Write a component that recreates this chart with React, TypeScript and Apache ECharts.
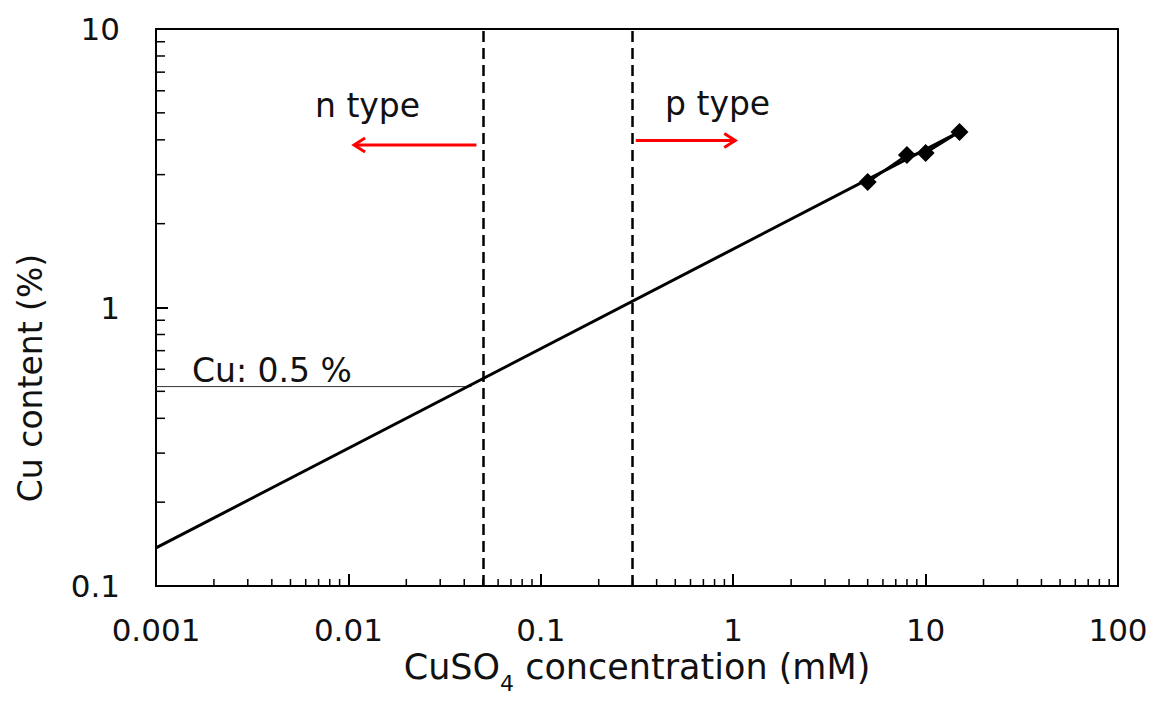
import React, { useEffect, useRef } from "react";
import * as echarts from "echarts";

// ---- data ----
const concentration = [5, 8, 10, 15];
const cuContent = [2.82, 3.53, 3.59, 4.27];
const fitX = [0.001, 15];
const fitY = [0.137, 4.27];
const typeBoundaries = [0.05, 0.3];
const cuLevelX = [0.001, 0.0436];
const cuLevel = 0.52;
const nArrow = [0.0463, 3.83, 0.0107, 3.83];
const pArrow = [0.3116, 3.98, 1.025, 3.98];
const xTickLabels = ["0.001", "0.01", "0.1", "1", "10", "100"];
const yTickLabels = ["0.1", "1", "10"];
const xDecades = [0.001, 0.01, 0.1, 1, 10];
const yDecades = [0.1, 1];
const minorSteps = [2, 3, 4, 5, 6, 7, 8, 9];

const FONT = "DejaVu Sans";
const INK = "#111";

export default function App() {
  const ref = useRef<HTMLDivElement>(null);
  useEffect(() => {
    if (!ref.current) return;
    const chart = echarts.init(ref.current, null, { renderer: "svg" });

    const xMinor: number[][] = [];
    xDecades.forEach((d) => minorSteps.forEach((m) => xMinor.push([d * m, 0.1])));
    const yMinor: number[][] = [];
    yDecades.forEach((d) => minorSteps.forEach((m) => yMinor.push([0.001, d * m])));

    const arrowItem = (params: any, api: any) => {
      const p1 = api.coord([api.value(0), api.value(1)]);
      const p2 = api.coord([api.value(2), api.value(3)]);
      const dir = p2[0] > p1[0] ? 1 : -1;
      const style = { stroke: "#ff0000", lineWidth: 3, fill: "none" };
      return {
        type: "group",
        children: [
          { type: "line", shape: { x1: p1[0], y1: p1[1], x2: p2[0], y2: p2[1] }, style },
          {
            type: "polyline",
            shape: {
              points: [
                [p2[0] - dir * 11, p2[1] - 7],
                [p2[0], p2[1]],
                [p2[0] - dir * 11, p2[1] + 7],
              ],
            },
            style,
          },
        ],
      };
    };

    const textStyle = (text: string, align = "left") => ({
      text,
      font: `33px "${FONT}"`,
      fill: INK,
      verticalAlign: "middle",
      align,
    });

    chart.setOption({
      animation: false,
      grid: {
        left: 156,
        top: 29,
        right: 48,
        bottom: 123,
        show: true,
        borderColor: "#000",
        borderWidth: 2,
        outerBoundsMode: "none",
        containLabel: false,
      },
      xAxis: {
        type: "log",
        logBase: 10,
        min: 0.001,
        max: 100,
        name: "{a|CuSO}{s|4}{a| concentration (mM)}",
        nameLocation: "middle",
        nameGap: 52,
        nameTextStyle: {
          rich: {
            a: { fontSize: 35, fontFamily: FONT, color: INK, lineHeight: 40, verticalAlign: "bottom" },
            s: { fontSize: 22, fontFamily: FONT, color: INK, lineHeight: 40, verticalAlign: "bottom", padding: [0, 0, -10, 0] },
          },
        },
        axisLine: { lineStyle: { color: "#000", width: 2 } },
        axisTick: { inside: true, length: 12, lineStyle: { color: "#000", width: 2 } },
        splitLine: { show: false },
        axisLabel: {
          fontSize: 31,
          fontFamily: FONT,
          color: INK,
          margin: 28,
          formatter: (v: number) => xTickLabels[Math.round(Math.log10(v)) + 3],
        },
      },
      yAxis: {
        type: "log",
        logBase: 10,
        min: 0.1,
        max: 10,
        axisLine: { lineStyle: { color: "#000", width: 2 } },
        axisTick: { inside: true, length: 12, lineStyle: { color: "#000", width: 2 } },
        splitLine: { show: false },
        axisLabel: {
          fontSize: 31,
          fontFamily: FONT,
          color: INK,
          margin: 36,
          formatter: (v: number) => yTickLabels[Math.round(Math.log10(v)) + 1],
        },
      },
      graphic: [
        { type: "text", x: 315, y: 105, style: textStyle("n type") },
        { type: "text", x: 665, y: 103, style: textStyle("p type") },
        { type: "text", x: 192, y: 370, style: textStyle("Cu: 0.5 %") },
        {
          type: "text",
          x: 30,
          y: 378,
          rotation: Math.PI / 2,
          style: textStyle("Cu content (%)", "center"),
        },
      ],
      series: [
        {
          type: "custom",
          silent: true,
          data: xMinor,
          renderItem: (params: any, api: any) => {
            const p = api.coord([api.value(0), api.value(1)]);
            return { type: "line", shape: { x1: p[0], y1: p[1], x2: p[0], y2: p[1] - 7 }, style: { stroke: "#000", lineWidth: 1.5 } };
          },
        },
        {
          type: "custom",
          silent: true,
          data: yMinor,
          renderItem: (params: any, api: any) => {
            const p = api.coord([api.value(0), api.value(1)]);
            return { type: "line", shape: { x1: p[0], y1: p[1], x2: p[0] + 9, y2: p[1] }, style: { stroke: "#000", lineWidth: 1.5 } };
          },
        },
        {
          type: "line",
          data: cuLevelX.map((x) => [x, cuLevel]),
          symbol: "none",
          lineStyle: { color: "#333", width: 1 },
          z: 3,
        },
        {
          type: "line",
          data: fitX.map((x, i) => [x, fitY[i]]),
          symbol: "none",
          lineStyle: { color: "#000", width: 3 },
          z: 4,
          markLine: {
            silent: true,
            symbol: ["none", "none"],
            label: { show: false },
            lineStyle: { color: "#000", width: 2.5, type: [11, 6] },
            data: typeBoundaries.map((v) => ({ xAxis: v })),
          },
        },
        {
          type: "line",
          data: concentration.map((x, i) => [x, cuContent[i]]),
          symbol: "diamond",
          symbolSize: 18,
          itemStyle: { color: "#000" },
          lineStyle: { color: "#000", width: 2.5 },
          z: 5,
        },
        {
          type: "custom",
          silent: true,
          data: [nArrow, pArrow],
          renderItem: arrowItem,
          z: 6,
        },
      ],
    });
    return () => chart.dispose();
  }, []);
  return (
    <div
      ref={ref}
      style={{ position: "fixed", left: 0, top: 0, width: 1166, height: 709, background: "#fff" }}
    />
  );
}
